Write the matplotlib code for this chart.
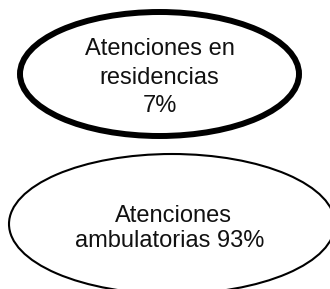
import matplotlib
matplotlib.use("Agg")
import matplotlib.pyplot as plt
from matplotlib.patches import Ellipse

# Data
categories = ["Atenciones en residencias", "Atenciones ambulatorias"]
values = [7, 93]
label_lines = [["Atenciones en", "residencias", "7%"],
               ["Atenciones", "ambulatorias 93%"]]

W, H = 330, 289
fig = plt.figure(figsize=(W / 100, H / 100), dpi=100)
ax = fig.add_axes([0, 0, 1, 1])
ax.set_xlim(0, W)
ax.set_ylim(H, 0)
ax.axis("off")

# shape layout (pixel units)
shapes = [
    dict(c=(159.5, 74), w=279, h=124, lw=4.3, baselines=[55, 83.5, 112], xs=[159.5, 159.5, 159.5]),
    dict(c=(172, 224), w=326, h=140, lw=1.5, baselines=[221.7, 246.7], xs=[173, 169.5]),
]

for cat, val, lines, s in zip(categories, values, label_lines, shapes):
    e = Ellipse(s["c"], s["w"], s["h"], facecolor="white", edgecolor="black", lw=s["lw"])
    ax.add_patch(e)
    for ln, yb, xc in zip(lines, s["baselines"], s["xs"]):
        ax.text(xc, yb, ln, ha="center", va="baseline", fontsize=17,
                family="Liberation Sans", color="#111111")

fig.savefig("out.png", dpi=100)
